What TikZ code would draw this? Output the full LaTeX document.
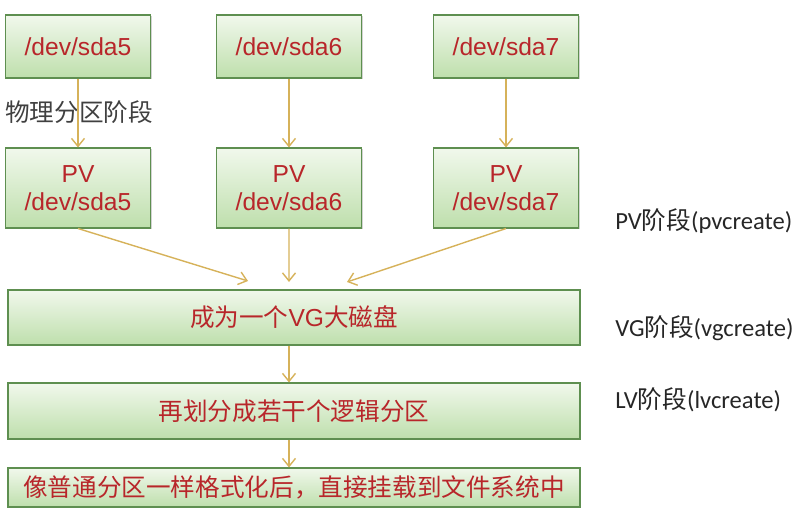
\documentclass[tikz,border=0pt]{standalone}
\usepackage{fontspec}
\setmainfont{Liberation Sans}
\newfontfamily\cjk{Noto Sans CJK SC}
\newfontfamily\lbl{Carlito}
\usetikzlibrary{positioning,arrows.meta,shadows}

\definecolor{boxtop}{HTML}{F1F8EC}
\definecolor{boxbot}{HTML}{BEDFAC}
\definecolor{boxline}{HTML}{5E8F50}
\definecolor{redtxt}{HTML}{B8262A}
\definecolor{arrowc}{HTML}{D6B25A}

\begin{document}
\begin{tikzpicture}[on grid,
  blk/.style={draw=boxline,line width=0.6pt,top color=boxtop,bottom color=boxbot,
    text=redtxt,font=\fontsize{14pt}{16pt}\selectfont,align=center,inner sep=0pt,
    drop shadow={shadow xshift=0.6pt,shadow yshift=-0.8pt,opacity=0.35}},
  dev/.style={blk,minimum width=2.9cm,minimum height=1.26cm},
  pv/.style={blk,minimum width=2.9cm,minimum height=1.6cm},
  wide/.style={blk,minimum width=11.44cm,font=\cjk\fontsize{14pt}{16pt}\selectfont},
  stage/.style={anchor=west,inner sep=0pt,font=\lbl\fontsize{14pt}{16pt}\selectfont,text=black!85},
  flow/.style={-{Straight Barb[length=1.6mm,width=2.6mm]},draw=arrowc,line width=0.8pt}]
  \useasboundingbox (0,0) rectangle (16,-10.28);
  % disks
  \node[dev](sda5) at (1.56,-0.93) {/dev/sda5};
  \node[dev](sda6) [right=4.22cm of sda5] {/dev/sda6};
  \node[dev](sda7) [right=4.34cm of sda6] {/dev/sda7};
  % physical volumes
  \node[pv](pv5) [below=2.83cm of sda5] {PV\\/dev/sda5};
  \node[pv](pv6) [below=2.83cm of sda6] {PV\\/dev/sda6};
  \node[pv](pv7) [below=2.83cm of sda7] {PV\\/dev/sda7};
  % vg, lv, fs
  \node[wide,minimum height=1.1cm](vg) at (5.88,-6.35) {成为一个\fontspec{Liberation Sans}VG\cjk 大磁盘};
  \node[wide,minimum height=1.12cm](lv) [below=1.87cm of vg] {再划分成若干个逻辑分区};
  \node[wide,minimum height=0.78cm](fs) [below=1.53cm of lv] {像普通分区一样格式化后，直接挂载到文件系统中};
  \coordinate (vgl) at (4.96,-5.62);
  \coordinate (vgm) at (5.78,-5.64);
  \coordinate (vgr) at (6.94,-5.64);
  % stage labels
  \node[font=\cjk\fontsize{14pt}{16pt}\selectfont,text=black!75,anchor=west,inner sep=0pt](phys) at (0.1,-2.24) {物理分区阶段};
  \node[stage](pvs) at (12.3,-4.42) {PV\cjk 阶段\lbl(pvcreate)};
  \node[stage](vgs) at (12.3,-6.56) {VG\cjk 阶段\lbl(vgcreate)};
  \node[stage](lvs) at (12.3,-8.0) {LV\cjk 阶段\lbl(lvcreate)};
  \draw[flow] (sda5) -- (pv5);
  \draw[flow] (sda6) -- (pv6);
  \draw[flow] (sda7) -- (pv7);
  \draw[flow] (pv5.south) -- (vgl);
  \draw[flow] (pv6) -- (vgm);
  \draw[flow] (pv7.south) -- (vgr);
  \draw[flow] (vg.south -| sda6) -- (lv.north -| sda6);
  \draw[flow] (lv.south -| sda6) -- (fs.north -| sda6);
\end{tikzpicture}
\end{document}
